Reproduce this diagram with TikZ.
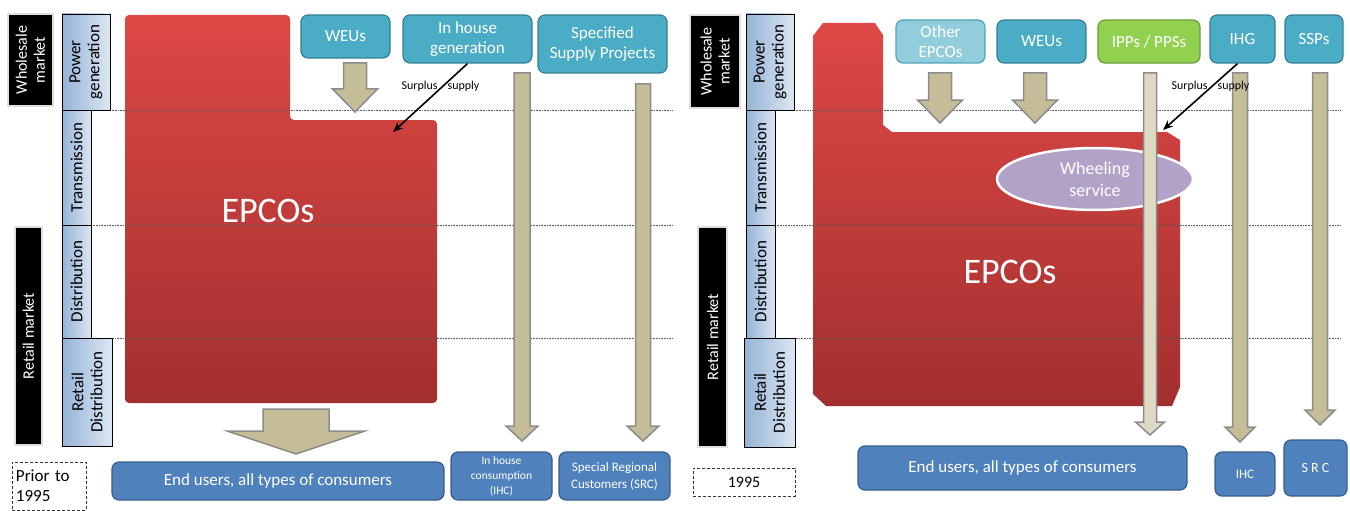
\documentclass[tikz,border=0pt]{standalone}
\usepackage{fontspec}
\setmainfont{Carlito}
\usetikzlibrary{shapes.geometric,calc,arrows.meta}
\definecolor{tealA}{HTML}{4BACC6}
\definecolor{tealB}{HTML}{357F93}
\definecolor{tealL}{HTML}{92CDDC}
\definecolor{tealLB}{HTML}{4FA3B8}
\definecolor{greenA}{HTML}{92D050}
\definecolor{greenB}{HTML}{6E9B3C}
\definecolor{blueA}{HTML}{4F81BD}
\definecolor{blueB}{HTML}{385D8A}
\definecolor{tanA}{HTML}{C4BD97}
\definecolor{tanL}{HTML}{DDD9C3}
\definecolor{tanB}{HTML}{8C8C8C}
\definecolor{purpA}{HTML}{B3A2C7}
\definecolor{sideD}{HTML}{95B3D7}
\definecolor{sideL}{HTML}{DCE6F2}
\definecolor{redT}{HTML}{DE4845}
\definecolor{redB}{HTML}{A22F2F}
\newcommand{\fsz}[2]{\fontsize{#1}{#2}\selectfont}
\newcommand{\barrow}[7]{%
  \draw[#1] ({#2-#3},#5) -- ({#2+#3},#5) -- ({#2+#3},#6) -- ({#2+#4},#6) -- (#2,#7) -- ({#2-#4},#6) -- ({#2-#3},#6) -- cycle;}
\tikzset{
  sidebox/.style={draw=black, line width=0.8, rotate=90, left color=sideD, right color=sideL, inner sep=0, align=center, font=\fsz{17}{19}},
  blackbox/.style={fill=black, draw=gray!25, line width=1.4, rotate=90, text=white, inner sep=0, align=center, font=\fsz{16}{18}},
  datebox/.style={draw=black!80, densely dashed, line width=0.8, inner sep=0, font=\fsz{17}{20}},
  topbox/.style={rounded corners=7, fill=tealA, draw=tealB, line width=1.2, text=white, inner sep=0, align=center, font=\fsz{17}{20}},
  botbox/.style={rounded corners=7, fill=blueA, draw=blueB, line width=1.2, text=white, inner sep=0, align=center},
  tanarrow/.style={fill=tanA, draw=tanB, line width=1.5},
  tanlight/.style={fill=tanL, draw=tanB, line width=1.5},
  dotline/.style={densely dotted, draw=gray!70!black, line width=0.6},
  surplus/.style={-{Stealth[length=10,width=8]}, line width=1.6},
  redshape/.style={top color=redT, bottom color=redB},
  bigtext/.style={text=white, font=\fsz{36}{40}},
}
\begin{document}
\begin{tikzpicture}[x=1pt,y=-1pt]
\useasboundingbox (0,0) rectangle (1350,511);

% ---------- left panel: EPCOs shape
\shade[redshape, rounded corners=4] (125,15) -- (290,15) -- (290,120) -- (437,120) -- (437,403) -- (125,403) -- cycle;
\node[bigtext] (ep1) at (268,211) {EPCOs};

% ---------- right panel: EPCOs shape
\shade[redshape] (813,36) -- (823,23) -- (875,23) -- (883,35) -- (883,125) -- (892,132) -- (1167,132) -- (1180,140) -- (1180,387) -- (1172,406) -- (826,406) -- (813,394) -- cycle;
\node[bigtext] (ep2) at (1010,272) {EPCOs};

% ---------- dotted lines
\draw[dotline] (110,110) -- (672,110);
\draw[dotline] (91,225) -- (672,225);
\draw[dotline] (91,338) -- (672,338);
\draw[dotline] (794,110) -- (1340,110);
\draw[dotline] (775,225) -- (1340,225);
\draw[dotline] (775,338) -- (1340,338);

% ---------- wheeling ellipse
\node[ellipse, fill=purpA, draw=white, line width=2.5, minimum width=196, minimum height=62, inner sep=0, text=white, align=center, font=\fsz{18}{22}] (wh) at (1095,179) {Wheeling\\service};

% ---------- block arrows left
\barrow{tanarrow}{355}{11.5}{22.5}{63}{89}{112}
\barrow{tanarrow}{296}{33}{69}{409}{431}{454}
\barrow{tanarrow}{522}{8}{16}{73}{426}{441}
\barrow{tanarrow}{643}{7.5}{16}{84}{426}{441}

% ---------- block arrows right
\barrow{tanarrow}{940}{11.5}{22.5}{73}{100}{123}
\barrow{tanarrow}{1035}{11.5}{22.5}{73}{100}{123}
\barrow{tanlight}{1150}{6.5}{14.5}{73}{422}{435}
\barrow{tanarrow}{1240}{7.5}{15}{73}{427}{442}
\barrow{tanarrow}{1320}{7.5}{15}{73}{410}{425}

% ---------- left side labels
\node[blackbox, minimum width=92, minimum height=45] (wm1) at (30.5,60) {Wholesale\\market};
\node[sidebox, minimum width=96, minimum height=48] (pg1) at (86,62) {Power\\generation};
\node[sidebox, minimum width=115, minimum height=29] (tr1) at (76.5,167.5) {Transmission};
\node[sidebox, minimum width=113, minimum height=29] (di1) at (76.5,281.5) {Distribution};
\node[sidebox, minimum width=108, minimum height=50] (rd1) at (87,392) {Retail\\Distribution};
\node[blackbox, minimum width=218, minimum height=27] (rm1) at (28.5,336) {Retail market};
\node[datebox, minimum width=74, minimum height=48, text width=66, align=left] (pr) at (49,486) {Prior to\\1995};

% ---------- right side labels
\node[blackbox, minimum width=93, minimum height=50] (wm2) at (715,61.5) {Wholesale\\market};
\node[sidebox, minimum width=96, minimum height=48] (pg2) at (770,62) {Power\\generation};
\node[sidebox, minimum width=115, minimum height=29] (tr2) at (760.5,167.5) {Transmission};
\node[sidebox, minimum width=113, minimum height=29] (di2) at (760.5,281.5) {Distribution};
\node[sidebox, minimum width=109, minimum height=51] (rd2) at (769.5,392.5) {Retail\\Distribution};
\node[blackbox, minimum width=220, minimum height=29] (rm2) at (712.5,337) {Retail market};
\node[datebox, minimum width=102, minimum height=28, font=\fsz{16}{18}] (y95) at (744,482) {1995};

% ---------- left top boxes
\node[topbox, minimum width=89, minimum height=43] (weu1) at (345.5,36.5) {WEUs};
\node[topbox, minimum width=129, minimum height=48] (ihg1) at (467.5,39) {In house\\generation};
\node[topbox, minimum width=129, minimum height=58] (ssp1) at (602.5,44) {Specified\\Supply Projects};

% ---------- left bottom boxes
\node[botbox, minimum width=332, minimum height=38, font=\fsz{17}{20}] (eu1) at (278,481) {End users, all types of consumers};
\node[botbox, minimum width=101, minimum height=48, font=\fsz{11.5}{15}] (ihc1) at (501.5,476) {In house\\consumption\\(IHC)};
\node[botbox, minimum width=111, minimum height=48, font=\fsz{13}{17}] (src1) at (614.5,476) {Special Regional\\Customers (SRC)};

% ---------- right top boxes
\node[topbox, fill=tealL, draw=tealLB, minimum width=89, minimum height=43] (oep) at (940.5,41.5) {Other\\EPCOs};
\node[topbox, minimum width=89, minimum height=43] (weu2) at (1041.5,41.5) {WEUs};
\node[topbox, fill=greenA, draw=greenB, minimum width=102, minimum height=43] (ipp) at (1149,41.5) {IPPs / PPSs};
\node[topbox, minimum width=65, minimum height=48] (ihg2) at (1242.5,39) {IHG};
\node[topbox, minimum width=58, minimum height=48] (ssp2) at (1314,39) {SSPs};

% ---------- right bottom boxes
\node[botbox, minimum width=329, minimum height=44, font=\fsz{17}{20}] (eu2) at (1022.5,468) {End users, all types of consumers};
\node[botbox, minimum width=60, minimum height=44, font=\fsz{13}{16}] (ihc2) at (1245,474) {IHC};
\node[botbox, minimum width=63, minimum height=56, font=\fsz{14}{16}] (src2) at (1315.5,468) {S R C};

% ---------- surplus supply arrows
\coordinate (sp1end) at (393,132);
\coordinate (sp2end) at (1163,130);
\draw[surplus] (ihg1.south) -- (sp1end);
\draw[surplus] ([xshift=-5]ihg2.south) -- (sp2end);
\node[font=\fsz{12}{14}] (sl1) at (440.5,86) {Surplus\hspace{10pt}supply};
\node[font=\fsz{12}{14}] (sl2) at (1210.5,86) {Surplus\hspace{10pt}supply};
\end{tikzpicture}
\end{document}
